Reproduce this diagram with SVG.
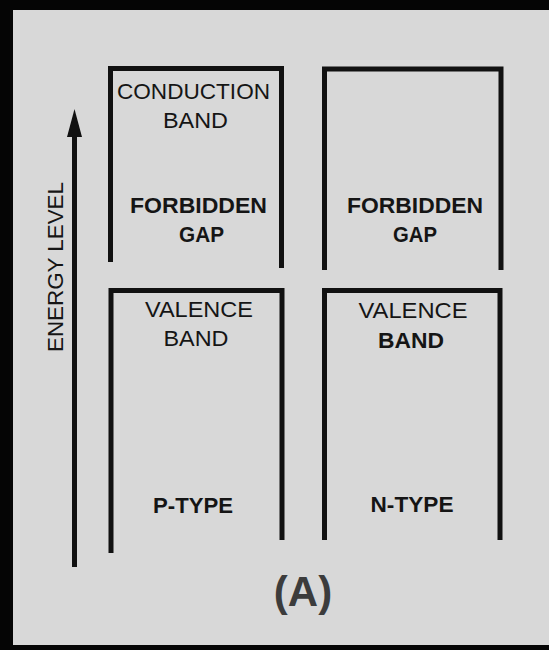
<svg xmlns="http://www.w3.org/2000/svg" width="549" height="650" viewBox="0 0 549 650">
<style>
.bg{fill:#d8d8d8}
.frame{fill:#050505}
.band{fill:none;stroke:#111;stroke-width:5;stroke-linecap:butt;stroke-linejoin:miter}
.t{font-family:"Liberation Sans",Arial,sans-serif;font-size:22px;fill:#151515;text-anchor:middle}
.b{font-weight:bold}
.lbl{font-family:"Liberation Sans",Arial,sans-serif;font-size:42px;font-weight:bold;fill:#3c3c3c;text-anchor:middle}
</style>
<rect class="bg" x="0" y="0" width="549" height="650"/>
<g id="frame">
<rect class="frame" x="0" y="0" width="549" height="10"/>
<rect class="frame" x="0" y="0" width="13" height="650"/>
<rect class="frame" x="0" y="645" width="549" height="5"/>
</g>
<g id="connectors">
<line x1="74.5" y1="567" x2="74.5" y2="134" stroke="#111" stroke-width="5"/>
<polygon points="74.5,109 82,137 67,137" fill="#111"/>
</g>
<g id="energy-axis-label">
<text class="t" transform="translate(63,267) rotate(-90)" textLength="170" lengthAdjust="spacingAndGlyphs">ENERGY LEVEL</text>
</g>
<g id="p-conduction">
<path class="band" d="M110.5,262 V68.5 H281.5 V268"/>
<text class="t" x="193.5" y="99" textLength="153" lengthAdjust="spacingAndGlyphs">CONDUCTION</text>
<text class="t" x="195.5" y="128" textLength="65" lengthAdjust="spacingAndGlyphs">BAND</text>
<text class="t b" x="198.5" y="213" textLength="137" lengthAdjust="spacingAndGlyphs">FORBIDDEN</text>
<text class="t b" x="201.5" y="242" textLength="45" lengthAdjust="spacingAndGlyphs">GAP</text>
</g>
<g id="n-conduction">
<path class="band" d="M324.5,270 V69 H501 V270"/>
<text class="t b" x="415" y="213" textLength="136" lengthAdjust="spacingAndGlyphs">FORBIDDEN</text>
<text class="t b" x="415" y="242" textLength="44" lengthAdjust="spacingAndGlyphs">GAP</text>
</g>
<g id="p-valence">
<path class="band" d="M111,553 V290.5 H282 V540"/>
<text class="t" x="199" y="317" textLength="108" lengthAdjust="spacingAndGlyphs">VALENCE</text>
<text class="t" x="196" y="346" textLength="65" lengthAdjust="spacingAndGlyphs">BAND</text>
<text class="t b" x="193" y="513" textLength="80" lengthAdjust="spacingAndGlyphs">P-TYPE</text>
</g>
<g id="n-valence">
<path class="band" d="M324.5,540 V290.5 H500 V540"/>
<text class="t" x="413" y="318" textLength="109" lengthAdjust="spacingAndGlyphs">VALENCE</text>
<text class="t b" x="411" y="348" textLength="66" lengthAdjust="spacingAndGlyphs">BAND</text>
<text class="t b" x="412" y="512" textLength="83" lengthAdjust="spacingAndGlyphs">N-TYPE</text>
</g>
<g id="caption">
<text class="lbl" x="303" y="606">(A)</text>
</g>
</svg>
